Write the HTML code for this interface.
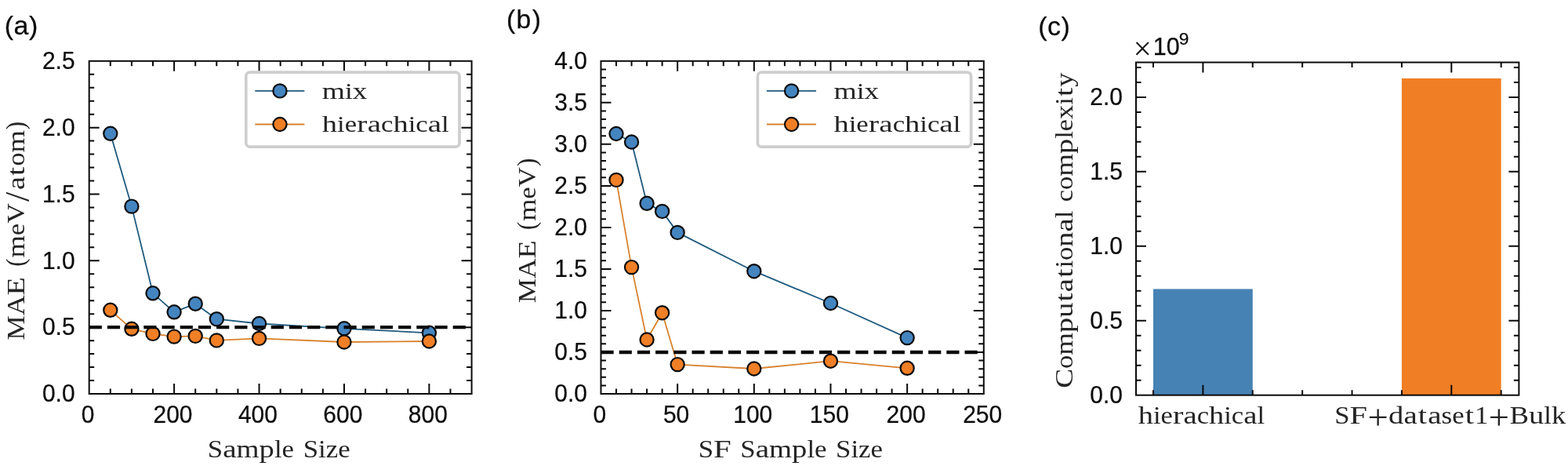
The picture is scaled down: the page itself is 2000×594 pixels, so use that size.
<!DOCTYPE html>
<html lang="en">
<head>
<meta charset="utf-8">
<title>Figure</title>
<style>
html,body{margin:0;padding:0;background:#fff;}
body{width:2000px;height:594px;overflow:hidden;}
svg{display:block;}
</style>
</head>
<body>
<svg width="2000" height="594" viewBox="0 0 2000 594">
<rect width="2000" height="594" fill="#ffffff"/>
<g>
<polyline points="140.81,170.3 167.91,263.1 195.02,373.8 222.12,397.8 249.23,387.2 276.33,406.7 330.54,412.5 438.97,418.8 547.39,424.3" fill="none" stroke="#1f5a7e" stroke-width="1.8" stroke-linejoin="round"/>
<circle cx="140.81" cy="170.3" r="8.6" fill="#4485c0" stroke="#0a0a0a" stroke-width="2.2"/>
<circle cx="167.91" cy="263.1" r="8.6" fill="#4485c0" stroke="#0a0a0a" stroke-width="2.2"/>
<circle cx="195.02" cy="373.8" r="8.6" fill="#4485c0" stroke="#0a0a0a" stroke-width="2.2"/>
<circle cx="222.12" cy="397.8" r="8.6" fill="#4485c0" stroke="#0a0a0a" stroke-width="2.2"/>
<circle cx="249.23" cy="387.2" r="8.6" fill="#4485c0" stroke="#0a0a0a" stroke-width="2.2"/>
<circle cx="276.33" cy="406.7" r="8.6" fill="#4485c0" stroke="#0a0a0a" stroke-width="2.2"/>
<circle cx="330.54" cy="412.5" r="8.6" fill="#4485c0" stroke="#0a0a0a" stroke-width="2.2"/>
<circle cx="438.97" cy="418.8" r="8.6" fill="#4485c0" stroke="#0a0a0a" stroke-width="2.2"/>
<circle cx="547.39" cy="424.3" r="8.6" fill="#4485c0" stroke="#0a0a0a" stroke-width="2.2"/>
<polyline points="140.81,395.3 167.91,419.3 195.02,425.4 222.12,429.1 249.23,428.4 276.33,433.9 330.54,431.4 438.97,436 547.39,435" fill="none" stroke="#d8822e" stroke-width="1.8" stroke-linejoin="round"/>
<circle cx="140.81" cy="395.3" r="8.6" fill="#f07f26" stroke="#0a0a0a" stroke-width="2.2"/>
<circle cx="167.91" cy="419.3" r="8.6" fill="#f07f26" stroke="#0a0a0a" stroke-width="2.2"/>
<circle cx="195.02" cy="425.4" r="8.6" fill="#f07f26" stroke="#0a0a0a" stroke-width="2.2"/>
<circle cx="222.12" cy="429.1" r="8.6" fill="#f07f26" stroke="#0a0a0a" stroke-width="2.2"/>
<circle cx="249.23" cy="428.4" r="8.6" fill="#f07f26" stroke="#0a0a0a" stroke-width="2.2"/>
<circle cx="276.33" cy="433.9" r="8.6" fill="#f07f26" stroke="#0a0a0a" stroke-width="2.2"/>
<circle cx="330.54" cy="431.4" r="8.6" fill="#f07f26" stroke="#0a0a0a" stroke-width="2.2"/>
<circle cx="438.97" cy="436" r="8.6" fill="#f07f26" stroke="#0a0a0a" stroke-width="2.2"/>
<circle cx="547.39" cy="435" r="8.6" fill="#f07f26" stroke="#0a0a0a" stroke-width="2.2"/>
<line x1="113.7" y1="417.16" x2="601.6" y2="417.16" stroke="#0a0a0a" stroke-width="4.3" stroke-dasharray="16.2 7"/>
<path d="M222.12 502v-13.0M222.12 77.8v13.0M330.54 502v-13.0M330.54 77.8v13.0M438.97 502v-13.0M438.97 77.8v13.0M547.39 502v-13.0M547.39 77.8v13.0M140.81 502v-6.5M140.81 77.8v6.5M167.91 502v-6.5M167.91 77.8v6.5M195.02 502v-6.5M195.02 77.8v6.5M249.23 502v-6.5M249.23 77.8v6.5M276.33 502v-6.5M276.33 77.8v6.5M303.44 502v-6.5M303.44 77.8v6.5M357.65 502v-6.5M357.65 77.8v6.5M384.76 502v-6.5M384.76 77.8v6.5M411.86 502v-6.5M411.86 77.8v6.5M466.07 502v-6.5M466.07 77.8v6.5M493.18 502v-6.5M493.18 77.8v6.5M520.28 502v-6.5M520.28 77.8v6.5M574.49 502v-6.5M574.49 77.8v6.5M113.7 417.16h13.0M601.6 417.16h-13.0M113.7 332.32h13.0M601.6 332.32h-13.0M113.7 247.48h13.0M601.6 247.48h-13.0M113.7 162.64h13.0M601.6 162.64h-13.0M113.7 485.03h6.5M601.6 485.03h-6.5M113.7 468.06h6.5M601.6 468.06h-6.5M113.7 451.1h6.5M601.6 451.1h-6.5M113.7 434.13h6.5M601.6 434.13h-6.5M113.7 400.19h6.5M601.6 400.19h-6.5M113.7 383.22h6.5M601.6 383.22h-6.5M113.7 366.26h6.5M601.6 366.26h-6.5M113.7 349.29h6.5M601.6 349.29h-6.5M113.7 315.35h6.5M601.6 315.35h-6.5M113.7 298.38h6.5M601.6 298.38h-6.5M113.7 281.42h6.5M601.6 281.42h-6.5M113.7 264.45h6.5M601.6 264.45h-6.5M113.7 230.51h6.5M601.6 230.51h-6.5M113.7 213.54h6.5M601.6 213.54h-6.5M113.7 196.58h6.5M601.6 196.58h-6.5M113.7 179.61h6.5M601.6 179.61h-6.5M113.7 145.67h6.5M601.6 145.67h-6.5M113.7 128.7h6.5M601.6 128.7h-6.5M113.7 111.74h6.5M601.6 111.74h-6.5M113.7 94.77h6.5M601.6 94.77h-6.5" stroke="#0a0a0a" stroke-width="2.0" fill="none"/>
<rect x="113.7" y="77.8" width="487.9" height="424.2" fill="none" stroke="#0a0a0a" stroke-width="2.0"/>
<text transform="translate(112.1 538.8) scale(0.9320 1)" font-family='"Liberation Sans", sans-serif' font-size="32.19" text-anchor="middle" fill="#0a0a0a" stroke="#0a0a0a" stroke-width="0.25">0</text>
<text transform="translate(220.52 538.8) scale(0.9320 1)" font-family='"Liberation Sans", sans-serif' font-size="32.19" text-anchor="middle" fill="#0a0a0a" stroke="#0a0a0a" stroke-width="0.25">200</text>
<text transform="translate(328.94 538.8) scale(0.9320 1)" font-family='"Liberation Sans", sans-serif' font-size="32.19" text-anchor="middle" fill="#0a0a0a" stroke="#0a0a0a" stroke-width="0.25">400</text>
<text transform="translate(437.37 538.8) scale(0.9320 1)" font-family='"Liberation Sans", sans-serif' font-size="32.19" text-anchor="middle" fill="#0a0a0a" stroke="#0a0a0a" stroke-width="0.25">600</text>
<text transform="translate(545.79 538.8) scale(0.9320 1)" font-family='"Liberation Sans", sans-serif' font-size="32.19" text-anchor="middle" fill="#0a0a0a" stroke="#0a0a0a" stroke-width="0.25">800</text>
<text transform="translate(95.6 512.2) scale(0.9320 1)" font-family='"Liberation Sans", sans-serif' font-size="32.19" text-anchor="end" fill="#0a0a0a" stroke="#0a0a0a" stroke-width="0.25">0.0</text>
<text transform="translate(95.6 427.36) scale(0.9320 1)" font-family='"Liberation Sans", sans-serif' font-size="32.19" text-anchor="end" fill="#0a0a0a" stroke="#0a0a0a" stroke-width="0.25">0.5</text>
<text transform="translate(95.6 342.52) scale(0.9320 1)" font-family='"Liberation Sans", sans-serif' font-size="32.19" text-anchor="end" fill="#0a0a0a" stroke="#0a0a0a" stroke-width="0.25">1.0</text>
<text transform="translate(95.6 257.68) scale(0.9320 1)" font-family='"Liberation Sans", sans-serif' font-size="32.19" text-anchor="end" fill="#0a0a0a" stroke="#0a0a0a" stroke-width="0.25">1.5</text>
<text transform="translate(95.6 172.84) scale(0.9320 1)" font-family='"Liberation Sans", sans-serif' font-size="32.19" text-anchor="end" fill="#0a0a0a" stroke="#0a0a0a" stroke-width="0.25">2.0</text>
<text transform="translate(95.6 88) scale(0.9320 1)" font-family='"Liberation Sans", sans-serif' font-size="32.19" text-anchor="end" fill="#0a0a0a" stroke="#0a0a0a" stroke-width="0.25">2.5</text>
<rect x="313.8" y="92.2" width="272.2" height="95.0" rx="5" ry="5" fill="#ffffff" fill-opacity="0.8" stroke="#cecece" stroke-width="3.7"/>
<line x1="325.3" y1="115.9" x2="388.4" y2="115.9" stroke="#1f5a7e" stroke-width="1.8"/>
<circle cx="357" cy="115.9" r="8.6" fill="#4485c0" stroke="#0a0a0a" stroke-width="2.2"/>
<text transform="translate(313.8 125.8)" font-family='"Liberation Serif", serif' font-size="29.8" fill="#242424"><tspan x="97" y="0" textLength="29.24" lengthAdjust="spacingAndGlyphs">m</tspan><tspan x="126.24" y="0" textLength="9.76" lengthAdjust="spacingAndGlyphs">i</tspan><tspan x="135.99" y="0" textLength="18.53" lengthAdjust="spacingAndGlyphs">x</tspan></text>
<line x1="325.3" y1="158.5" x2="388.4" y2="158.5" stroke="#d8822e" stroke-width="1.8"/>
<circle cx="357" cy="158.5" r="8.6" fill="#f07f26" stroke="#0a0a0a" stroke-width="2.2"/>
<text transform="translate(313.8 168.4)" font-family='"Liberation Serif", serif' font-size="29.8" fill="#242424"><tspan x="97.01" y="0" textLength="19.28" lengthAdjust="spacingAndGlyphs">h</tspan><tspan x="116.29" y="0" textLength="9.64" lengthAdjust="spacingAndGlyphs">i</tspan><tspan x="125.93" y="0" textLength="15.39" lengthAdjust="spacingAndGlyphs">e</tspan><tspan x="141.56" y="0" textLength="13.1" lengthAdjust="spacingAndGlyphs">r</tspan><tspan x="154.91" y="0" textLength="17.33" lengthAdjust="spacingAndGlyphs">a</tspan><tspan x="172.24" y="0" textLength="15.39" lengthAdjust="spacingAndGlyphs">c</tspan><tspan x="187.64" y="0" textLength="19.28" lengthAdjust="spacingAndGlyphs">h</tspan><tspan x="206.91" y="0" textLength="9.64" lengthAdjust="spacingAndGlyphs">i</tspan><tspan x="216.55" y="0" textLength="15.39" lengthAdjust="spacingAndGlyphs">c</tspan><tspan x="231.94" y="0" textLength="17.33" lengthAdjust="spacingAndGlyphs">a</tspan><tspan x="249.28" y="0" textLength="9.64" lengthAdjust="spacingAndGlyphs">l</tspan></text>
<text transform="translate(0 583.4)" font-family='"Liberation Serif", serif' font-size="32" fill="#242424"><tspan x="264.81" y="0" textLength="19.36" lengthAdjust="spacingAndGlyphs">S</tspan><tspan x="284.17" y="0" textLength="17.41" lengthAdjust="spacingAndGlyphs">a</tspan><tspan x="301.57" y="0" textLength="29" lengthAdjust="spacingAndGlyphs">m</tspan><tspan x="330.58" y="0" textLength="19.36" lengthAdjust="spacingAndGlyphs">p</tspan><tspan x="349.93" y="0" textLength="9.68" lengthAdjust="spacingAndGlyphs">l</tspan><tspan x="359.61" y="0" textLength="15.46" lengthAdjust="spacingAndGlyphs">e</tspan> <tspan x="386.66" y="0" textLength="19.36" lengthAdjust="spacingAndGlyphs">S</tspan><tspan x="406.02" y="0" textLength="9.68" lengthAdjust="spacingAndGlyphs">i</tspan><tspan x="415.7" y="0" textLength="15.46" lengthAdjust="spacingAndGlyphs">z</tspan><tspan x="431.16" y="0" textLength="15.46" lengthAdjust="spacingAndGlyphs">e</tspan></text>
<text transform="translate(30.6 432.1) rotate(-90)" font-family='"Liberation Serif", serif' font-size="30.6" fill="#242424"><tspan x="-1.37" y="0" textLength="31.37" lengthAdjust="spacingAndGlyphs">M</tspan><tspan x="30" y="0" textLength="25.65" lengthAdjust="spacingAndGlyphs">A</tspan><tspan x="55.65" y="0" textLength="23.29" lengthAdjust="spacingAndGlyphs">E</tspan> <tspan x="92.45" y="0.03" font-size="33.72" textLength="10.3" lengthAdjust="spacingAndGlyphs">(</tspan><tspan x="103.65" y="0" textLength="28.49" lengthAdjust="spacingAndGlyphs">m</tspan><tspan x="132.14" y="0" textLength="15.19" lengthAdjust="spacingAndGlyphs">e</tspan><tspan x="147.33" y="0" textLength="25.65" lengthAdjust="spacingAndGlyphs">V</tspan><tspan x="175.03" y="6.75" font-size="45.07" textLength="12.33" lengthAdjust="spacingAndGlyphs">/</tspan><tspan x="190.08" y="0" textLength="17.1" lengthAdjust="spacingAndGlyphs">a</tspan><tspan x="208.23" y="0" textLength="11.22" lengthAdjust="spacingAndGlyphs">t</tspan><tspan x="220.49" y="0" textLength="17.1" lengthAdjust="spacingAndGlyphs">o</tspan><tspan x="237.6" y="0" textLength="28.49" lengthAdjust="spacingAndGlyphs">m</tspan><tspan x="266.96" y="0.03" font-size="33.72" textLength="10.4" lengthAdjust="spacingAndGlyphs">)</tspan></text>
<text x="5.7" y="44.1" font-family='"Liberation Sans", sans-serif' font-size="34" text-anchor="start" letter-spacing="0.5" fill="#0a0a0a" stroke="#0a0a0a" stroke-width="0.25">(a)</text>
</g>
<g>
<polyline points="786.03,170.5 805.56,181 825.1,259.3 844.63,269.4 864.16,296.4 961.82,345.7 1059.48,386.5 1157.14,430.6" fill="none" stroke="#1f5a7e" stroke-width="1.8" stroke-linejoin="round"/>
<circle cx="786.03" cy="170.5" r="8.6" fill="#4485c0" stroke="#0a0a0a" stroke-width="2.2"/>
<circle cx="805.56" cy="181" r="8.6" fill="#4485c0" stroke="#0a0a0a" stroke-width="2.2"/>
<circle cx="825.1" cy="259.3" r="8.6" fill="#4485c0" stroke="#0a0a0a" stroke-width="2.2"/>
<circle cx="844.63" cy="269.4" r="8.6" fill="#4485c0" stroke="#0a0a0a" stroke-width="2.2"/>
<circle cx="864.16" cy="296.4" r="8.6" fill="#4485c0" stroke="#0a0a0a" stroke-width="2.2"/>
<circle cx="961.82" cy="345.7" r="8.6" fill="#4485c0" stroke="#0a0a0a" stroke-width="2.2"/>
<circle cx="1059.48" cy="386.5" r="8.6" fill="#4485c0" stroke="#0a0a0a" stroke-width="2.2"/>
<circle cx="1157.14" cy="430.6" r="8.6" fill="#4485c0" stroke="#0a0a0a" stroke-width="2.2"/>
<polyline points="786.03,229.4 805.56,340.6 825.1,433 844.63,398.7 864.16,464.6 961.82,470 1059.48,460.2 1157.14,469.3" fill="none" stroke="#d8822e" stroke-width="1.8" stroke-linejoin="round"/>
<circle cx="786.03" cy="229.4" r="8.6" fill="#f07f26" stroke="#0a0a0a" stroke-width="2.2"/>
<circle cx="805.56" cy="340.6" r="8.6" fill="#f07f26" stroke="#0a0a0a" stroke-width="2.2"/>
<circle cx="825.1" cy="433" r="8.6" fill="#f07f26" stroke="#0a0a0a" stroke-width="2.2"/>
<circle cx="844.63" cy="398.7" r="8.6" fill="#f07f26" stroke="#0a0a0a" stroke-width="2.2"/>
<circle cx="864.16" cy="464.6" r="8.6" fill="#f07f26" stroke="#0a0a0a" stroke-width="2.2"/>
<circle cx="961.82" cy="470" r="8.6" fill="#f07f26" stroke="#0a0a0a" stroke-width="2.2"/>
<circle cx="1059.48" cy="460.2" r="8.6" fill="#f07f26" stroke="#0a0a0a" stroke-width="2.2"/>
<circle cx="1157.14" cy="469.3" r="8.6" fill="#f07f26" stroke="#0a0a0a" stroke-width="2.2"/>
<line x1="766.5" y1="448.98" x2="1254.8" y2="448.98" stroke="#0a0a0a" stroke-width="4.3" stroke-dasharray="16.2 7"/>
<path d="M864.16 502v-13.0M864.16 77.8v13.0M961.82 502v-13.0M961.82 77.8v13.0M1059.48 502v-13.0M1059.48 77.8v13.0M1157.14 502v-13.0M1157.14 77.8v13.0M786.03 502v-6.5M786.03 77.8v6.5M805.56 502v-6.5M805.56 77.8v6.5M825.1 502v-6.5M825.1 77.8v6.5M844.63 502v-6.5M844.63 77.8v6.5M883.69 502v-6.5M883.69 77.8v6.5M903.22 502v-6.5M903.22 77.8v6.5M922.76 502v-6.5M922.76 77.8v6.5M942.29 502v-6.5M942.29 77.8v6.5M981.35 502v-6.5M981.35 77.8v6.5M1000.88 502v-6.5M1000.88 77.8v6.5M1020.42 502v-6.5M1020.42 77.8v6.5M1039.95 502v-6.5M1039.95 77.8v6.5M1079.01 502v-6.5M1079.01 77.8v6.5M1098.54 502v-6.5M1098.54 77.8v6.5M1118.08 502v-6.5M1118.08 77.8v6.5M1137.61 502v-6.5M1137.61 77.8v6.5M1176.67 502v-6.5M1176.67 77.8v6.5M1196.2 502v-6.5M1196.2 77.8v6.5M1215.74 502v-6.5M1215.74 77.8v6.5M1235.27 502v-6.5M1235.27 77.8v6.5M766.5 448.98h13.0M1254.8 448.98h-13.0M766.5 395.95h13.0M1254.8 395.95h-13.0M766.5 342.93h13.0M1254.8 342.93h-13.0M766.5 289.9h13.0M1254.8 289.9h-13.0M766.5 236.88h13.0M1254.8 236.88h-13.0M766.5 183.85h13.0M1254.8 183.85h-13.0M766.5 130.82h13.0M1254.8 130.82h-13.0M766.5 491.39h6.5M1254.8 491.39h-6.5M766.5 480.79h6.5M1254.8 480.79h-6.5M766.5 470.19h6.5M1254.8 470.19h-6.5M766.5 459.58h6.5M1254.8 459.58h-6.5M766.5 438.37h6.5M1254.8 438.37h-6.5M766.5 427.76h6.5M1254.8 427.76h-6.5M766.5 417.16h6.5M1254.8 417.16h-6.5M766.5 406.56h6.5M1254.8 406.56h-6.5M766.5 385.35h6.5M1254.8 385.35h-6.5M766.5 374.74h6.5M1254.8 374.74h-6.5M766.5 364.13h6.5M1254.8 364.13h-6.5M766.5 353.53h6.5M1254.8 353.53h-6.5M766.5 332.32h6.5M1254.8 332.32h-6.5M766.5 321.71h6.5M1254.8 321.71h-6.5M766.5 311.11h6.5M1254.8 311.11h-6.5M766.5 300.5h6.5M1254.8 300.5h-6.5M766.5 279.29h6.5M1254.8 279.29h-6.5M766.5 268.69h6.5M1254.8 268.69h-6.5M766.5 258.08h6.5M1254.8 258.08h-6.5M766.5 247.48h6.5M1254.8 247.48h-6.5M766.5 226.27h6.5M1254.8 226.27h-6.5M766.5 215.66h6.5M1254.8 215.66h-6.5M766.5 205.06h6.5M1254.8 205.06h-6.5M766.5 194.45h6.5M1254.8 194.45h-6.5M766.5 173.25h6.5M1254.8 173.25h-6.5M766.5 162.64h6.5M1254.8 162.64h-6.5M766.5 152.03h6.5M1254.8 152.03h-6.5M766.5 141.43h6.5M1254.8 141.43h-6.5M766.5 120.22h6.5M1254.8 120.22h-6.5M766.5 109.62h6.5M1254.8 109.62h-6.5M766.5 99.01h6.5M1254.8 99.01h-6.5M766.5 88.4h6.5M1254.8 88.4h-6.5" stroke="#0a0a0a" stroke-width="2.0" fill="none"/>
<rect x="766.5" y="77.8" width="488.3" height="424.2" fill="none" stroke="#0a0a0a" stroke-width="2.0"/>
<text transform="translate(764.9 538.8) scale(0.9320 1)" font-family='"Liberation Sans", sans-serif' font-size="32.19" text-anchor="middle" fill="#0a0a0a" stroke="#0a0a0a" stroke-width="0.25">0</text>
<text transform="translate(862.56 538.8) scale(0.9320 1)" font-family='"Liberation Sans", sans-serif' font-size="32.19" text-anchor="middle" fill="#0a0a0a" stroke="#0a0a0a" stroke-width="0.25">50</text>
<text transform="translate(960.22 538.8) scale(0.9320 1)" font-family='"Liberation Sans", sans-serif' font-size="32.19" text-anchor="middle" fill="#0a0a0a" stroke="#0a0a0a" stroke-width="0.25">100</text>
<text transform="translate(1057.88 538.8) scale(0.9320 1)" font-family='"Liberation Sans", sans-serif' font-size="32.19" text-anchor="middle" fill="#0a0a0a" stroke="#0a0a0a" stroke-width="0.25">150</text>
<text transform="translate(1155.54 538.8) scale(0.9320 1)" font-family='"Liberation Sans", sans-serif' font-size="32.19" text-anchor="middle" fill="#0a0a0a" stroke="#0a0a0a" stroke-width="0.25">200</text>
<text transform="translate(1253.2 538.8) scale(0.9320 1)" font-family='"Liberation Sans", sans-serif' font-size="32.19" text-anchor="middle" fill="#0a0a0a" stroke="#0a0a0a" stroke-width="0.25">250</text>
<text transform="translate(749 512.2) scale(0.9320 1)" font-family='"Liberation Sans", sans-serif' font-size="32.19" text-anchor="end" fill="#0a0a0a" stroke="#0a0a0a" stroke-width="0.25">0.0</text>
<text transform="translate(749 459.18) scale(0.9320 1)" font-family='"Liberation Sans", sans-serif' font-size="32.19" text-anchor="end" fill="#0a0a0a" stroke="#0a0a0a" stroke-width="0.25">0.5</text>
<text transform="translate(749 406.15) scale(0.9320 1)" font-family='"Liberation Sans", sans-serif' font-size="32.19" text-anchor="end" fill="#0a0a0a" stroke="#0a0a0a" stroke-width="0.25">1.0</text>
<text transform="translate(749 353.12) scale(0.9320 1)" font-family='"Liberation Sans", sans-serif' font-size="32.19" text-anchor="end" fill="#0a0a0a" stroke="#0a0a0a" stroke-width="0.25">1.5</text>
<text transform="translate(749 300.1) scale(0.9320 1)" font-family='"Liberation Sans", sans-serif' font-size="32.19" text-anchor="end" fill="#0a0a0a" stroke="#0a0a0a" stroke-width="0.25">2.0</text>
<text transform="translate(749 247.07) scale(0.9320 1)" font-family='"Liberation Sans", sans-serif' font-size="32.19" text-anchor="end" fill="#0a0a0a" stroke="#0a0a0a" stroke-width="0.25">2.5</text>
<text transform="translate(749 194.05) scale(0.9320 1)" font-family='"Liberation Sans", sans-serif' font-size="32.19" text-anchor="end" fill="#0a0a0a" stroke="#0a0a0a" stroke-width="0.25">3.0</text>
<text transform="translate(749 141.02) scale(0.9320 1)" font-family='"Liberation Sans", sans-serif' font-size="32.19" text-anchor="end" fill="#0a0a0a" stroke="#0a0a0a" stroke-width="0.25">3.5</text>
<text transform="translate(749 88) scale(0.9320 1)" font-family='"Liberation Sans", sans-serif' font-size="32.19" text-anchor="end" fill="#0a0a0a" stroke="#0a0a0a" stroke-width="0.25">4.0</text>
<rect x="966.4" y="92.2" width="272.2" height="95.0" rx="5" ry="5" fill="#ffffff" fill-opacity="0.8" stroke="#cecece" stroke-width="3.7"/>
<line x1="977.9" y1="115.9" x2="1041" y2="115.9" stroke="#1f5a7e" stroke-width="1.8"/>
<circle cx="1009.6" cy="115.9" r="8.6" fill="#4485c0" stroke="#0a0a0a" stroke-width="2.2"/>
<text transform="translate(966.4 125.8)" font-family='"Liberation Serif", serif' font-size="29.8" fill="#242424"><tspan x="97" y="0" textLength="29.24" lengthAdjust="spacingAndGlyphs">m</tspan><tspan x="126.24" y="0" textLength="9.76" lengthAdjust="spacingAndGlyphs">i</tspan><tspan x="135.99" y="0" textLength="18.53" lengthAdjust="spacingAndGlyphs">x</tspan></text>
<line x1="977.9" y1="158.5" x2="1041" y2="158.5" stroke="#d8822e" stroke-width="1.8"/>
<circle cx="1009.6" cy="158.5" r="8.6" fill="#f07f26" stroke="#0a0a0a" stroke-width="2.2"/>
<text transform="translate(966.4 168.4)" font-family='"Liberation Serif", serif' font-size="29.8" fill="#242424"><tspan x="97.01" y="0" textLength="19.28" lengthAdjust="spacingAndGlyphs">h</tspan><tspan x="116.29" y="0" textLength="9.64" lengthAdjust="spacingAndGlyphs">i</tspan><tspan x="125.93" y="0" textLength="15.39" lengthAdjust="spacingAndGlyphs">e</tspan><tspan x="141.56" y="0" textLength="13.1" lengthAdjust="spacingAndGlyphs">r</tspan><tspan x="154.91" y="0" textLength="17.33" lengthAdjust="spacingAndGlyphs">a</tspan><tspan x="172.24" y="0" textLength="15.39" lengthAdjust="spacingAndGlyphs">c</tspan><tspan x="187.64" y="0" textLength="19.28" lengthAdjust="spacingAndGlyphs">h</tspan><tspan x="206.91" y="0" textLength="9.64" lengthAdjust="spacingAndGlyphs">i</tspan><tspan x="216.55" y="0" textLength="15.39" lengthAdjust="spacingAndGlyphs">c</tspan><tspan x="231.94" y="0" textLength="17.33" lengthAdjust="spacingAndGlyphs">a</tspan><tspan x="249.28" y="0" textLength="9.64" lengthAdjust="spacingAndGlyphs">l</tspan></text>
<text transform="translate(0 583.4)" font-family='"Liberation Serif", serif' font-size="32" fill="#242424"><tspan x="890.71" y="0" textLength="19.34" lengthAdjust="spacingAndGlyphs">S</tspan><tspan x="910.05" y="0" textLength="22.72" lengthAdjust="spacingAndGlyphs">F</tspan> <tspan x="944.35" y="0" textLength="19.34" lengthAdjust="spacingAndGlyphs">S</tspan><tspan x="963.69" y="0" textLength="17.39" lengthAdjust="spacingAndGlyphs">a</tspan><tspan x="981.09" y="0" textLength="28.98" lengthAdjust="spacingAndGlyphs">m</tspan><tspan x="1010.07" y="0" textLength="19.34" lengthAdjust="spacingAndGlyphs">p</tspan><tspan x="1029.41" y="0" textLength="9.67" lengthAdjust="spacingAndGlyphs">l</tspan><tspan x="1039.08" y="0" textLength="15.45" lengthAdjust="spacingAndGlyphs">e</tspan> <tspan x="1066.11" y="0" textLength="19.34" lengthAdjust="spacingAndGlyphs">S</tspan><tspan x="1085.45" y="0" textLength="9.67" lengthAdjust="spacingAndGlyphs">i</tspan><tspan x="1095.13" y="0" textLength="15.45" lengthAdjust="spacingAndGlyphs">z</tspan><tspan x="1110.57" y="0" textLength="15.45" lengthAdjust="spacingAndGlyphs">e</tspan></text>
<text transform="translate(682.9 384.8) rotate(-90)" font-family='"Liberation Serif", serif' font-size="30.6" fill="#242424"><tspan x="-1.36" y="0" textLength="31.17" lengthAdjust="spacingAndGlyphs">M</tspan><tspan x="29.81" y="0" textLength="25.49" lengthAdjust="spacingAndGlyphs">A</tspan><tspan x="55.3" y="0" textLength="23.14" lengthAdjust="spacingAndGlyphs">E</tspan> <tspan x="91.85" y="0.03" font-size="33.72" textLength="10.23" lengthAdjust="spacingAndGlyphs">(</tspan><tspan x="102.98" y="0" textLength="28.31" lengthAdjust="spacingAndGlyphs">m</tspan><tspan x="131.29" y="0" textLength="15.09" lengthAdjust="spacingAndGlyphs">e</tspan><tspan x="146.38" y="0" textLength="25.49" lengthAdjust="spacingAndGlyphs">V</tspan><tspan x="172.73" y="0.03" font-size="33.72" textLength="10.33" lengthAdjust="spacingAndGlyphs">)</tspan></text>
<text x="646" y="36.2" font-family='"Liberation Sans", sans-serif' font-size="33.8" text-anchor="start" letter-spacing="1.3" fill="#0a0a0a" stroke="#0a0a0a" stroke-width="0.25">(b)</text>
</g>
<g>
<rect x="1471.02" y="368.4" width="126.76" height="135.3" fill="#4682b4"/>
<rect x="1787.92" y="99.9" width="126.76" height="403.8" fill="#f07e24"/>
<path d="M1534.4 503.7v-13.0M1534.4 79.5v13.0M1851.3 503.7v-13.0M1851.3 79.5v13.0M1471.02 503.7v-6.5M1471.02 79.5v6.5M1597.78 503.7v-6.5M1597.78 79.5v6.5M1661.16 503.7v-6.5M1661.16 79.5v6.5M1724.54 503.7v-6.5M1724.54 79.5v6.5M1787.92 503.7v-6.5M1787.92 79.5v6.5M1914.68 503.7v-6.5M1914.68 79.5v6.5M1449 408.75h13.0M1937.4 408.75h-13.0M1449 313.8h13.0M1937.4 313.8h-13.0M1449 218.85h13.0M1937.4 218.85h-13.0M1449 123.9h13.0M1937.4 123.9h-13.0M1449 484.71h6.5M1937.4 484.71h-6.5M1449 465.72h6.5M1937.4 465.72h-6.5M1449 446.73h6.5M1937.4 446.73h-6.5M1449 427.74h6.5M1937.4 427.74h-6.5M1449 389.76h6.5M1937.4 389.76h-6.5M1449 370.77h6.5M1937.4 370.77h-6.5M1449 351.78h6.5M1937.4 351.78h-6.5M1449 332.79h6.5M1937.4 332.79h-6.5M1449 294.81h6.5M1937.4 294.81h-6.5M1449 275.82h6.5M1937.4 275.82h-6.5M1449 256.83h6.5M1937.4 256.83h-6.5M1449 237.84h6.5M1937.4 237.84h-6.5M1449 199.86h6.5M1937.4 199.86h-6.5M1449 180.87h6.5M1937.4 180.87h-6.5M1449 161.88h6.5M1937.4 161.88h-6.5M1449 142.89h6.5M1937.4 142.89h-6.5M1449 104.91h6.5M1937.4 104.91h-6.5M1449 85.92h6.5M1937.4 85.92h-6.5" stroke="#0a0a0a" stroke-width="2.0" fill="none"/>
<rect x="1449" y="79.5" width="488.4" height="424.2" fill="none" stroke="#0a0a0a" stroke-width="2.0"/>
<text transform="translate(1432 513.9) scale(0.9320 1)" font-family='"Liberation Sans", sans-serif' font-size="32.19" text-anchor="end" fill="#0a0a0a" stroke="#0a0a0a" stroke-width="0.25">0.0</text>
<text transform="translate(1432 418.95) scale(0.9320 1)" font-family='"Liberation Sans", sans-serif' font-size="32.19" text-anchor="end" fill="#0a0a0a" stroke="#0a0a0a" stroke-width="0.25">0.5</text>
<text transform="translate(1432 324) scale(0.9320 1)" font-family='"Liberation Sans", sans-serif' font-size="32.19" text-anchor="end" fill="#0a0a0a" stroke="#0a0a0a" stroke-width="0.25">1.0</text>
<text transform="translate(1432 229.05) scale(0.9320 1)" font-family='"Liberation Sans", sans-serif' font-size="32.19" text-anchor="end" fill="#0a0a0a" stroke="#0a0a0a" stroke-width="0.25">1.5</text>
<text transform="translate(1432 134.1) scale(0.9320 1)" font-family='"Liberation Sans", sans-serif' font-size="32.19" text-anchor="end" fill="#0a0a0a" stroke="#0a0a0a" stroke-width="0.25">2.0</text>
<text transform="translate(0 540.1)" font-family='"Liberation Serif", serif' font-size="30.6" fill="#242424"><tspan x="1451.82" y="0" textLength="19.19" lengthAdjust="spacingAndGlyphs">h</tspan><tspan x="1471.01" y="0" textLength="9.6" lengthAdjust="spacingAndGlyphs">i</tspan><tspan x="1480.61" y="0" textLength="15.33" lengthAdjust="spacingAndGlyphs">e</tspan><tspan x="1495.97" y="0" textLength="13.45" lengthAdjust="spacingAndGlyphs">r</tspan><tspan x="1509.46" y="0" textLength="17.26" lengthAdjust="spacingAndGlyphs">a</tspan><tspan x="1526.72" y="0" textLength="15.33" lengthAdjust="spacingAndGlyphs">c</tspan><tspan x="1542.04" y="0" textLength="19.19" lengthAdjust="spacingAndGlyphs">h</tspan><tspan x="1561.23" y="0" textLength="9.6" lengthAdjust="spacingAndGlyphs">i</tspan><tspan x="1570.83" y="0" textLength="15.33" lengthAdjust="spacingAndGlyphs">c</tspan><tspan x="1586.15" y="0" textLength="17.26" lengthAdjust="spacingAndGlyphs">a</tspan><tspan x="1603.41" y="0" textLength="9.6" lengthAdjust="spacingAndGlyphs">l</tspan></text>
<text transform="translate(0 540)" font-family='"Liberation Serif", serif' font-size="30.6" fill="#242424"><tspan x="1702.21" y="0" textLength="19.28" lengthAdjust="spacingAndGlyphs">S</tspan><tspan x="1721.58" y="0" textLength="22.46" lengthAdjust="spacingAndGlyphs">F</tspan><tspan x="1744.41" y="7.32" font-size="45.16" textLength="26.29" lengthAdjust="spacingAndGlyphs">+</tspan><tspan x="1771.12" y="0" textLength="19.28" lengthAdjust="spacingAndGlyphs">d</tspan><tspan x="1790.4" y="0" textLength="17.34" lengthAdjust="spacingAndGlyphs">a</tspan><tspan x="1808.87" y="0" textLength="11.22" lengthAdjust="spacingAndGlyphs">t</tspan><tspan x="1821.23" y="0" textLength="17.34" lengthAdjust="spacingAndGlyphs">a</tspan><tspan x="1838.56" y="0" textLength="13.66" lengthAdjust="spacingAndGlyphs">s</tspan><tspan x="1852.23" y="0" textLength="15.4" lengthAdjust="spacingAndGlyphs">e</tspan><tspan x="1868.76" y="0" textLength="11.22" lengthAdjust="spacingAndGlyphs">t</tspan><tspan x="1881.11" y="0" textLength="17.34" lengthAdjust="spacingAndGlyphs">1</tspan><tspan x="1898.72" y="7.32" font-size="45.16" textLength="26.29" lengthAdjust="spacingAndGlyphs">+</tspan><tspan x="1925.43" y="0" textLength="24.55" lengthAdjust="spacingAndGlyphs">B</tspan><tspan x="1949.98" y="0" textLength="19.28" lengthAdjust="spacingAndGlyphs">u</tspan><tspan x="1969.26" y="0" textLength="9.64" lengthAdjust="spacingAndGlyphs">l</tspan><tspan x="1978.9" y="0" textLength="18.31" lengthAdjust="spacingAndGlyphs">k</tspan></text>
<text transform="translate(1367.5 493.4) rotate(-90)" font-family='"Liberation Serif", serif' font-size="30.6" fill="#242424"><tspan x="-1.38" y="0" textLength="24.89" lengthAdjust="spacingAndGlyphs">C</tspan><tspan x="23.51" y="0" textLength="17.24" lengthAdjust="spacingAndGlyphs">o</tspan><tspan x="40.75" y="0" textLength="28.72" lengthAdjust="spacingAndGlyphs">m</tspan><tspan x="69.47" y="0" textLength="19.17" lengthAdjust="spacingAndGlyphs">p</tspan><tspan x="88.64" y="0" textLength="19.17" lengthAdjust="spacingAndGlyphs">u</tspan><tspan x="108.91" y="0" textLength="11.22" lengthAdjust="spacingAndGlyphs">t</tspan><tspan x="121.22" y="0" textLength="17.24" lengthAdjust="spacingAndGlyphs">a</tspan><tspan x="139.56" y="0" textLength="11.22" lengthAdjust="spacingAndGlyphs">t</tspan><tspan x="151.87" y="0" textLength="9.58" lengthAdjust="spacingAndGlyphs">i</tspan><tspan x="161.46" y="0" textLength="17.24" lengthAdjust="spacingAndGlyphs">o</tspan><tspan x="178.7" y="0" textLength="19.17" lengthAdjust="spacingAndGlyphs">n</tspan><tspan x="197.87" y="0" textLength="17.24" lengthAdjust="spacingAndGlyphs">a</tspan><tspan x="215.11" y="0" textLength="9.58" lengthAdjust="spacingAndGlyphs">l</tspan> <tspan x="236.17" y="0" textLength="15.31" lengthAdjust="spacingAndGlyphs">c</tspan><tspan x="251.48" y="0" textLength="17.24" lengthAdjust="spacingAndGlyphs">o</tspan><tspan x="268.72" y="0" textLength="28.72" lengthAdjust="spacingAndGlyphs">m</tspan><tspan x="297.44" y="0" textLength="19.17" lengthAdjust="spacingAndGlyphs">p</tspan><tspan x="316.61" y="0" textLength="9.58" lengthAdjust="spacingAndGlyphs">l</tspan><tspan x="326.19" y="0" textLength="15.31" lengthAdjust="spacingAndGlyphs">e</tspan><tspan x="341.5" y="0" textLength="18.2" lengthAdjust="spacingAndGlyphs">x</tspan><tspan x="359.71" y="0" textLength="9.58" lengthAdjust="spacingAndGlyphs">i</tspan><tspan x="370.39" y="0" textLength="11.22" lengthAdjust="spacingAndGlyphs">t</tspan><tspan x="382.7" y="0" textLength="18.2" lengthAdjust="spacingAndGlyphs">y</tspan></text>
<text x="1324.2" y="44.5" font-family='"Liberation Sans", sans-serif' font-size="34" text-anchor="start" letter-spacing="0.5" fill="#0a0a0a" stroke="#0a0a0a" stroke-width="0.25">(c)</text>
<text x="1445.4" y="76.2" font-family='"Liberation Serif", serif' font-size="41.5" fill="#1a1a1a">×</text><text x="1470.8" y="70.4" font-family='"Liberation Sans", sans-serif' font-size="30.5" fill="#0a0a0a" stroke="#0a0a0a" stroke-width="0.25">10<tspan dy="-13.9" dx="-1" font-size="22.8">9</tspan></text>
</g>
</svg>
</body>
</html>
